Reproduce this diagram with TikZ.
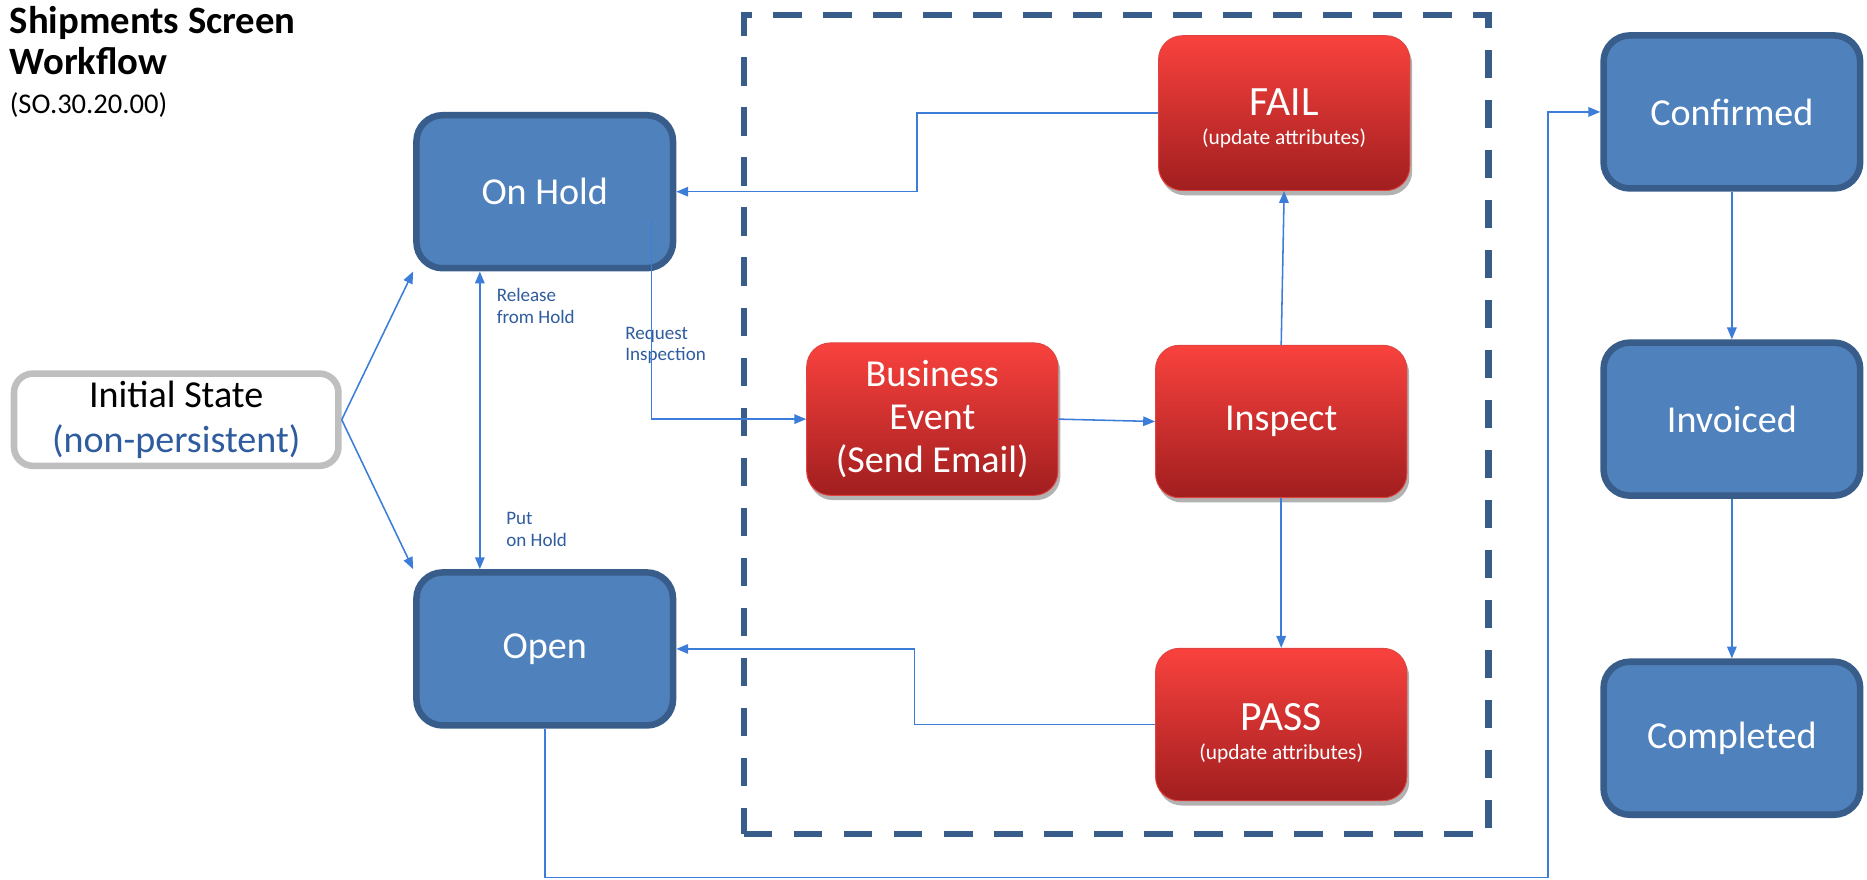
\documentclass[tikz,border=0pt]{standalone}
\usepackage{fontspec}
\setmainfont{Carlito}
\usetikzlibrary{arrows.meta,shadows,calc}

\definecolor{boxblue}{HTML}{4F81BD}
\definecolor{boxedge}{HTML}{385D8A}
\definecolor{arrowblue}{HTML}{3B7DD8}
\definecolor{labelblue}{HTML}{2F5C9E}
\definecolor{redtop}{HTML}{F9423E}
\definecolor{redbot}{HTML}{A11E1F}
\definecolor{rededge}{HTML}{E0443F}
\definecolor{grayedge}{HTML}{BFBFBF}

\begin{document}
\begin{tikzpicture}[x=1pt,y=-1pt,
  bluebox/.style={draw=boxedge, line width=5.5pt, fill=boxblue, rounded corners=22pt,
    minimum width=215.5pt, minimum height=128.5pt, inner sep=0pt, text=white,
    font=\fontsize{32}{37}\selectfont, align=center},
  redbox/.style={draw=rededge, line width=0.8pt, top color=redtop, bottom color=redbot,
    rounded corners=20pt, minimum width=211pt, minimum height=128pt, inner sep=0pt,
    text=white, font=\fontsize{32}{36}\selectfont, align=center,
    drop shadow={shadow xshift=2pt, shadow yshift=-4pt, opacity=0.3, fill=black}},
  initbox/.style={draw=grayedge, line width=5.5pt, fill=white, rounded corners=16pt,
    minimum width=272.5pt, minimum height=77.5pt, inner sep=0pt,
    font=\fontsize{32}{38}\selectfont, align=center},
  dashbox/.style={draw=boxedge, line width=5.5pt, dash pattern=on 24pt off 18pt,
    minimum width=625.5pt, minimum height=687.5pt, inner sep=0pt},
  conn/.style={draw=arrowblue, line width=1.3pt, -{Triangle[length=10pt,width=8pt]}},
  lbl/.style={text=labelblue, font=\fontsize{16}{18}\selectfont, align=left, inner sep=0pt, anchor=west},
  bigtxt/.style={text=white, font=\fontsize{35}{38}\selectfont, inner sep=0pt, anchor=base},
  smalltxt/.style={text=white, font=\fontsize{18}{20}\selectfont, inner sep=0pt, anchor=base},
  ttl/.style={font=\fontsize{32.5}{34}\selectfont\bfseries, inner sep=0pt, anchor=base west},
  ]
\useasboundingbox (0,0) rectangle (1568,739);

% title
\node[ttl] (t1) at (8,28.5) {Shipments Screen};
\node[ttl] (t2) at (8,62.5) {Workflow};
\node[font=\fontsize{24}{26}\selectfont, inner sep=0pt, anchor=base west] (t3) at (8,95) {(SO.30.20.00)};

% group
\node[dashbox] (grp) at (937.5,356.5) {};

% states
\node[initbox] (init) at (148,352.5) {Initial State\\{\color{labelblue}(non-persistent)}};
\node[bluebox] (onhold) at (457.5,161) {On Hold};
\node[bluebox] (open) at (457.5,545) {Open};
\node[bluebox] (conf) at (1454.5,94) {Confirmed};
\node[bluebox] (inv) at (1454.5,352) {Invoiced};
\node[bluebox] (comp) at (1454.5,620) {Completed};

\node[redbox] (biz) at (783,352) {Business\\Event\\(Send Email)};
\node[redbox] (insp) at (1076,354) {Inspect};
\node[redbox, minimum height=130pt] (fail) at (1078.5,95) {};
\node[bigtxt] (failt) at ($(fail.center)+(0,2)$) {FAIL};
\node[smalltxt] (fails) at ($(fail.center)+(0,26.5)$) {(update attributes)};
\node[redbox] (pass) at (1076,608.5) {};
\node[bigtxt] (passt) at ($(pass.center)+(0,5)$) {PASS};
\node[smalltxt] (passs) at ($(pass.center)+(0,29)$) {(update attributes)};

% labels
\node[lbl] (l1) at (417,257) {Release\\from Hold};
\node[lbl] (l2) at (525,290) {Request\\Inspection};
\node[lbl] (l3) at (425,444.5) {Put\\on Hold};

% helper coordinates
\coordinate (xa) at (403,0);
\coordinate (ri) at (547,185);
\coordinate (fk) at (770,0);
\coordinate (pk) at (768,0);
\coordinate (bot) at (1300,737);

% connectors
\draw[conn] (init.east) -- (onhold.south west);
\draw[conn] (init.east) -- (open.north west);
\draw[conn, {Triangle[length=10pt,width=8pt]}-{Triangle[length=10pt,width=8pt]}]
  (onhold.south -| xa) -- (open.north -| xa);
\draw[conn] (ri) |- (biz.west);
\draw[conn] (biz.east) -- (insp.west);
\draw[conn] (insp.north) -- (fail.south);
\draw[conn] (fail.west) -| (fk |- onhold.east) -- (onhold.east);
\draw[conn] (insp.south) -- (pass.north);
\draw[conn] (pass.west) -| (pk |- open.east) -- (open.east);
\draw[conn] (open.south) |- (bot) |- (conf.west);
\draw[conn] (conf.south) -- (inv.north);
\draw[conn] (inv.south) -- (comp.north);
\end{tikzpicture}
\end{document}
